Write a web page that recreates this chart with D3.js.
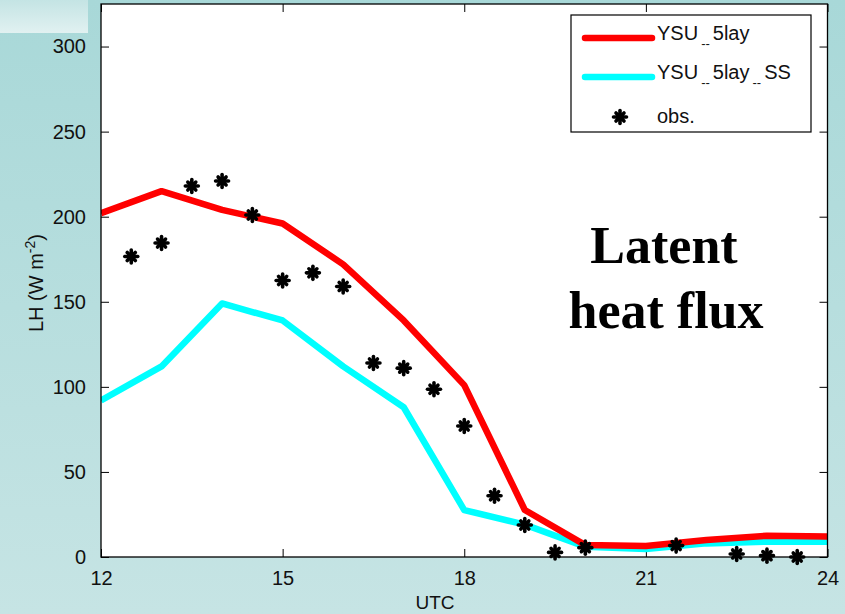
<!DOCTYPE html>
<html>
<head>
<meta charset="utf-8">
<script src="https://cdn.jsdelivr.net/npm/d3@7"></script>
<style>
  html, body { margin: 0; padding: 0; }
  body { width: 845px; height: 614px; overflow: hidden; }
</style>
</head>
<body>
<svg id="chart" width="845" height="614" font-family="Arial, 'Liberation Sans', sans-serif"></svg>
<script>
// Données
const hours = [12, 13, 14, 15, 16, 17, 18, 19, 20, 21, 22, 23, 24];
const ysu5lay = [202, 215, 204, 196, 172, 139, 101, 27.6, 7, 6.5, 10, 12.5, 12];
const ysu5laySS = [92, 112, 149, 139, 112, 88, 27.6, 19, 6, 4.7, 8, 9, 9];
const obsHours = [12.5, 13, 13.5, 14, 14.5, 15, 15.5, 16, 16.5, 17, 17.5, 18, 18.5, 19, 19.5, 20, 21.5, 22.5, 23, 23.5];
const obsValues = [176.6, 184.5, 218, 221, 201, 162.5, 167, 159, 114, 111, 98.6, 77, 36, 18.8, 2.7, 5.5, 6.7, 1.8, 0.8, 0];
const xTicks = [12, 15, 18, 21, 24];
const yTicks = [0, 50, 100, 150, 200, 250, 300];

const margin = { top: 4, right: 17.5, bottom: 57, left: 101 },
    width = 845 - margin.left - margin.right,
    height = 614 - margin.top - margin.bottom;

const svg = d3.select("#chart");

// fond du diapo
const defs = svg.append("defs");
const bg = defs.append("linearGradient").attr("id", "bg")
    .attr("x1", 0).attr("y1", 0).attr("x2", 0).attr("y2", 1);
bg.append("stop").attr("offset", "0%").attr("stop-color", "#a8d8d8");
bg.append("stop").attr("offset", "100%").attr("stop-color", "#c6e4e4");
const tl = defs.append("linearGradient").attr("id", "tl")
    .attr("x1", 0).attr("y1", 0).attr("x2", 0).attr("y2", 1);
tl.append("stop").attr("offset", "0%").attr("stop-color", "#c4e4e4");
tl.append("stop").attr("offset", "100%").attr("stop-color", "#e1f1f1");

svg.append("rect").attr("width", 845).attr("height", 614).attr("fill", "url(#bg)");
svg.append("rect").attr("width", 88).attr("height", 33).attr("fill", "url(#tl)");

const g = svg.append("g").attr("transform", "translate(" + margin.left + "," + margin.top + ")");

const x = d3.scaleLinear().domain([12, 24]).range([0, width]);
const y = d3.scaleLinear().domain([0, 325]).range([height, 0]);

g.append("rect").attr("width", width).attr("height", height).attr("fill", "#fff");

// Axes (ticks vers l'intérieur, comme matlab)
const tickLen = 8;
const axB = g.append("g").attr("transform", "translate(0," + height + ")")
    .call(d3.axisBottom(x).tickValues(xTicks).tickSize(-tickLen).tickPadding(tickLen + 6).tickFormat(d3.format("d")));
const axT = g.append("g")
    .call(d3.axisTop(x).tickValues(xTicks).tickSize(-tickLen).tickFormat(""));
const axL = g.append("g")
    .call(d3.axisLeft(y).tickValues(yTicks).tickSize(-tickLen).tickPadding(tickLen + 7).tickFormat(d3.format("d")));
const axR = g.append("g").attr("transform", "translate(" + width + ",0)")
    .call(d3.axisRight(y).tickValues(yTicks).tickSize(-tickLen).tickFormat(""));

[axB, axT, axL, axR].forEach(a => {
    a.select(".domain").remove();
    a.selectAll("line").attr("stroke", "#000").attr("stroke-width", 1);
    a.selectAll("text").attr("font-size", 20).attr("fill", "#111")
        .attr("font-family", "Arial, 'Liberation Sans', sans-serif");
});
axB.selectAll("text").attr("dy", "0.71em");

// Courbes
const line = d3.line().x((d, i) => x(hours[i])).y(d => y(d));
const clip = defs.append("clipPath").attr("id", "clip");
clip.append("rect").attr("width", width).attr("height", height);

const plot = g.append("g").attr("clip-path", "url(#clip)");
plot.append("path").datum(ysu5laySS)
    .attr("d", line).attr("fill", "none").attr("stroke", "#00ffff")
    .attr("stroke-width", 6.5).attr("stroke-linejoin", "round");
plot.append("path").datum(ysu5lay)
    .attr("d", line).attr("fill", "none").attr("stroke", "#ff0000")
    .attr("stroke-width", 6.5).attr("stroke-linejoin", "round");

// étoiles des obs (astérisque épais)
function star(sel) {
    sel.append("line").attr("x1", 0).attr("x2", 0).attr("y1", -6.5).attr("y2", 6.5);
    sel.append("line").attr("x1", -6.5).attr("x2", 6.5).attr("y1", 0).attr("y2", 0);
    sel.append("line").attr("x1", -4).attr("x2", 4).attr("y1", -4).attr("y2", 4);
    sel.append("line").attr("x1", -4).attr("x2", 4).attr("y1", 4).attr("y2", -4);
    sel.selectAll("line").attr("stroke", "#000").attr("stroke-width", 3.6).attr("stroke-linecap", "round");
    sel.append("circle").attr("r", 4).attr("fill", "#000");
}

g.selectAll(".obs")
    .data(obsValues)
    .enter()
    .append("g")
    .attr("class", "obs")
    .attr("transform", (d, i) => "translate(" + x(obsHours[i]) + "," + y(d) + ")")
    .each(function () { star(d3.select(this)); });

// cadre
g.append("rect").attr("width", width).attr("height", height)
    .attr("fill", "none").attr("stroke", "#000").attr("stroke-width", 1.3);

// Légende
const leg = svg.append("g");
leg.append("rect").attr("x", 571).attr("y", 15).attr("width", 240).attr("height", 117)
    .attr("fill", "#fff").attr("stroke", "#000").attr("stroke-width", 1.2);
const legItems = [
    { name: "YSU", after: "5lay", color: "#ff0000", y: 38 },
    { name: "YSU", after: "5lay", sub2: "SS", color: "#00ffff", y: 77 }
];
legItems.forEach(it => {
    leg.append("line").attr("x1", 585).attr("x2", 652).attr("y1", it.y).attr("y2", it.y)
        .attr("stroke", it.color).attr("stroke-width", 6.5).attr("stroke-linecap", "round");
    const t = leg.append("text").attr("x", 657).attr("y", it.y + 1.5).attr("font-size", 20).attr("fill", "#111");
    t.append("tspan").text(it.name);
    t.append("tspan").attr("font-size", 13).attr("dx", 3).attr("dy", 8).text("--");
    t.append("tspan").attr("dx", 3).attr("dy", -8).text(it.after);
    if (it.sub2) {
        t.append("tspan").attr("font-size", 13).attr("dx", 3).attr("dy", 8).text("--");
        t.append("tspan").attr("dx", 3).attr("dy", -8).text(it.sub2);
    }
});
const legStar = leg.append("g").attr("transform", "translate(620,117)");
star(legStar);
leg.append("text").attr("x", 657).attr("y", 123).attr("font-size", 20).attr("fill", "#111").text("obs.");

// Titres des axes
svg.append("text").attr("x", 435).attr("y", 609).attr("text-anchor", "middle")
    .attr("font-size", 19).attr("fill", "#111").text("UTC");
const yl = svg.append("text").attr("transform", "translate(43,283) rotate(-90)")
    .attr("text-anchor", "middle").attr("font-size", 20).attr("fill", "#111");
yl.append("tspan").text("LH (W m");
yl.append("tspan").attr("font-size", 14).attr("dy", -8).text("-2");
yl.append("tspan").attr("dy", 8).text(")");

// Texte
const big = svg.append("text").attr("text-anchor", "middle")
    .style("font-family", "'Liberation Serif', 'Times New Roman', serif")
    .attr("font-weight", "bold").attr("font-size", 52).attr("fill", "#000");
big.append("tspan").attr("x", 664).attr("y", 263).text("Latent");
big.append("tspan").attr("x", 666).attr("y", 328).text("heat flux");
</script>
</body>
</html>
